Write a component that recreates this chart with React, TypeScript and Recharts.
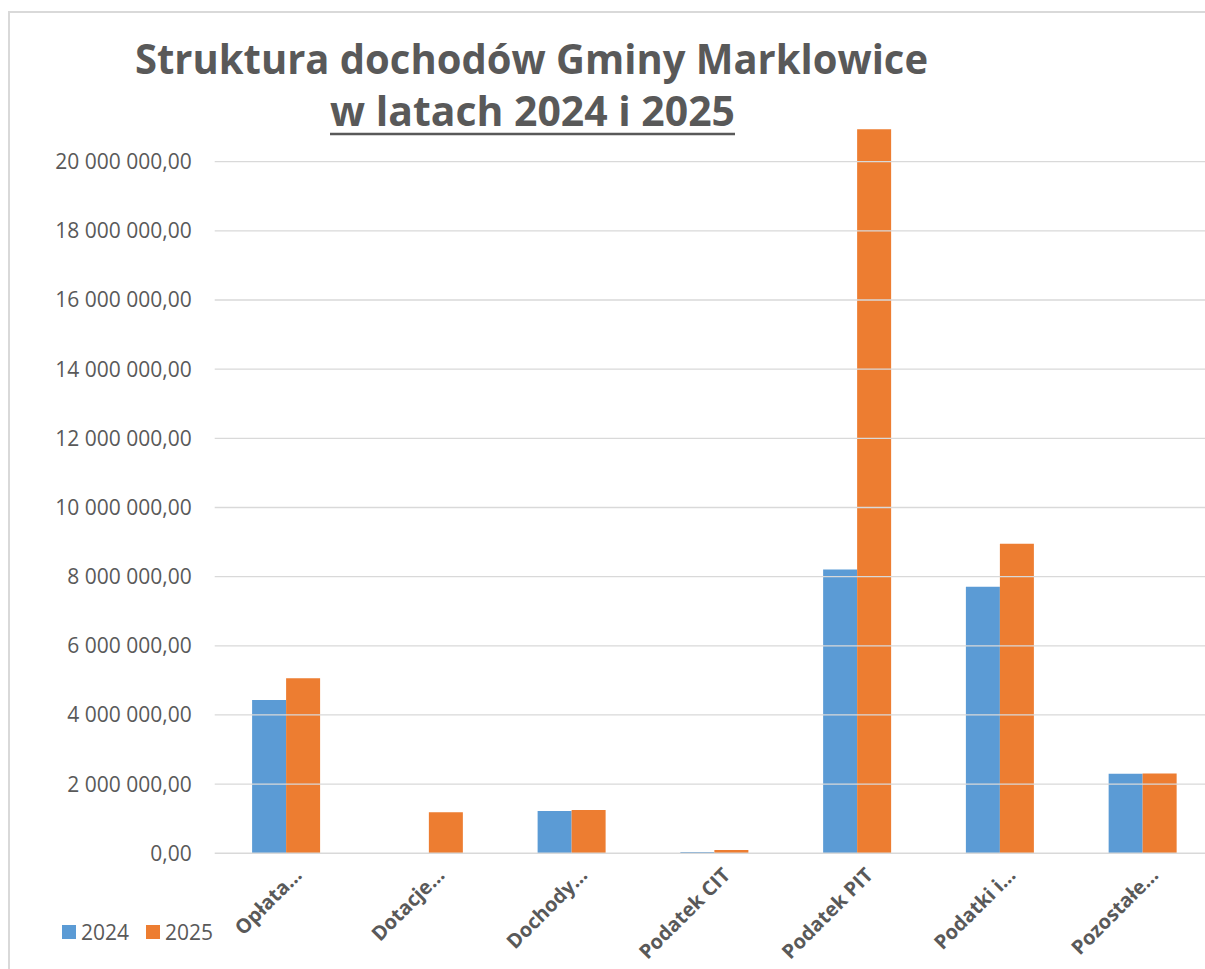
import React from 'react';
import { BarChart, Bar, XAxis, YAxis, ReferenceLine } from 'recharts';

const categories = ['Opłata…', 'Dotacje…', 'Dochody…', 'Podatek CIT', 'Podatek PIT', 'Podatki i…', 'Pozostałe…'];
const values2024 = [4430000, 0, 1220000, 40000, 8210000, 7710000, 2300000];
const values2025 = [5060000, 1190000, 1250000, 95000, 20940000, 8950000, 2310000];
const yTicks = [0, 2000000, 4000000, 6000000, 8000000, 10000000, 12000000, 14000000, 16000000, 18000000, 20000000];
const seriesNames = ['2024', '2025'];
const seriesColors = ['#5B9BD5', '#ED7D31'];
const titleLine1 = 'Struktura dochodów Gminy Marklowice';
const titleLine2 = 'w latach 2024 i 2025';

const data = categories.map((c, i) => ({ name: c, v2024: values2024[i], v2025: values2025[i] }));

const fmt = (n: number) =>
  Math.round(n).toString().replace(/\B(?=(\d{3})+(?!\d))/g, ' ') + ',00';

const FONT = '"Open Sans", sans-serif';
const GRAY = '#595959';

const XTick = (props: any) => {
  const { x, y, payload } = props;
  const ax = x + 17;
  const ay = y + 23;
  return (
    <text
      x={ax}
      y={ay}
      textAnchor="end"
      transform={`rotate(-45, ${ax}, ${ay})`}
      fontFamily={FONT}
      fontSize={20}
      fontWeight={700}
      fill={GRAY}
    >
      {payload.value}
    </text>
  );
};

export default function App() {
  return (
    <div
      style={{
        position: 'absolute',
        left: 0,
        top: 0,
        width: 1205,
        height: 969,
        overflow: 'hidden',
        background: '#fff',
        fontFamily: FONT,
      }}
    >
      <div
        style={{
          position: 'absolute',
          left: 8,
          top: 11,
          width: 1300,
          height: 1000,
          borderLeft: '2px solid #d9d9d9',
          borderTop: '2px solid #d9d9d9',
        }}
      />
      <div style={{ position: 'absolute', left: 0, top: 0 }}>
        <BarChart
          width={1214}
          height={969}
          data={data}
          margin={{ top: 92.5, right: 0, bottom: 0, left: 0 }}
          barCategoryGap="26.2%"
          barGap={0}
        >
          {yTicks.slice(1).map((t) => (
            <ReferenceLine key={t} y={t} stroke="#d9d9d9" strokeWidth={1.3} ifOverflow="visible" />
          ))}
          <XAxis
            dataKey="name"
            height={115.7}
            interval={0}
            tickLine={false}
            tickSize={0}
            tickMargin={0}
            axisLine={{ stroke: '#d9d9d9', strokeWidth: 1.5 }}
            tick={<XTick />}
          />
          <YAxis
            width={214.7}
            domain={[0, 22000000]}
            ticks={yTicks}
            interval={0}
            tickLine={false}
            tickSize={0}
            tickMargin={23}
            axisLine={false}
            tickFormatter={fmt}
            tick={{ fontFamily: FONT, fontSize: 21, fill: GRAY }}
          />
          <Bar dataKey="v2024" name={seriesNames[0]} fill={seriesColors[0]} isAnimationActive={false} />
          <Bar dataKey="v2025" name={seriesNames[1]} fill={seriesColors[1]} isAnimationActive={false} />
        </BarChart>
      </div>
      <svg width={1205} height={150} style={{ position: 'absolute', left: 0, top: 0 }}>
        <text
          x={531.5}
          y={74}
          textAnchor="middle"
          fontFamily={FONT}
          fontSize={42}
          fontWeight={700}
          fill={GRAY}
          textLength={793}
          lengthAdjust="spacingAndGlyphs"
        >
          {titleLine1}
        </text>
        <text
          x={532.5}
          y={126}
          textAnchor="middle"
          fontFamily={FONT}
          fontSize={42}
          fontWeight={700}
          fill={GRAY}
          textLength={405}
          lengthAdjust="spacingAndGlyphs"
        >
          {titleLine2}
        </text>
        <line x1={330} x2={735} y1={134} y2={134} stroke={GRAY} strokeWidth={2.5} />
      </svg>
      <div
        style={{
          position: 'absolute',
          left: 62,
          top: 918,
          display: 'flex',
          alignItems: 'center',
          fontFamily: FONT,
          fontSize: 21,
          color: GRAY,
          lineHeight: '28px',
        }}
      >
        {seriesNames.map((n, i) => (
          <div key={n} style={{ display: 'flex', alignItems: 'center', marginRight: 17 }}>
            <span
              style={{ display: 'inline-block', width: 14, height: 14, background: seriesColors[i], marginRight: 5 }}
            />
            <span>{n}</span>
          </div>
        ))}
      </div>
    </div>
  );
}
